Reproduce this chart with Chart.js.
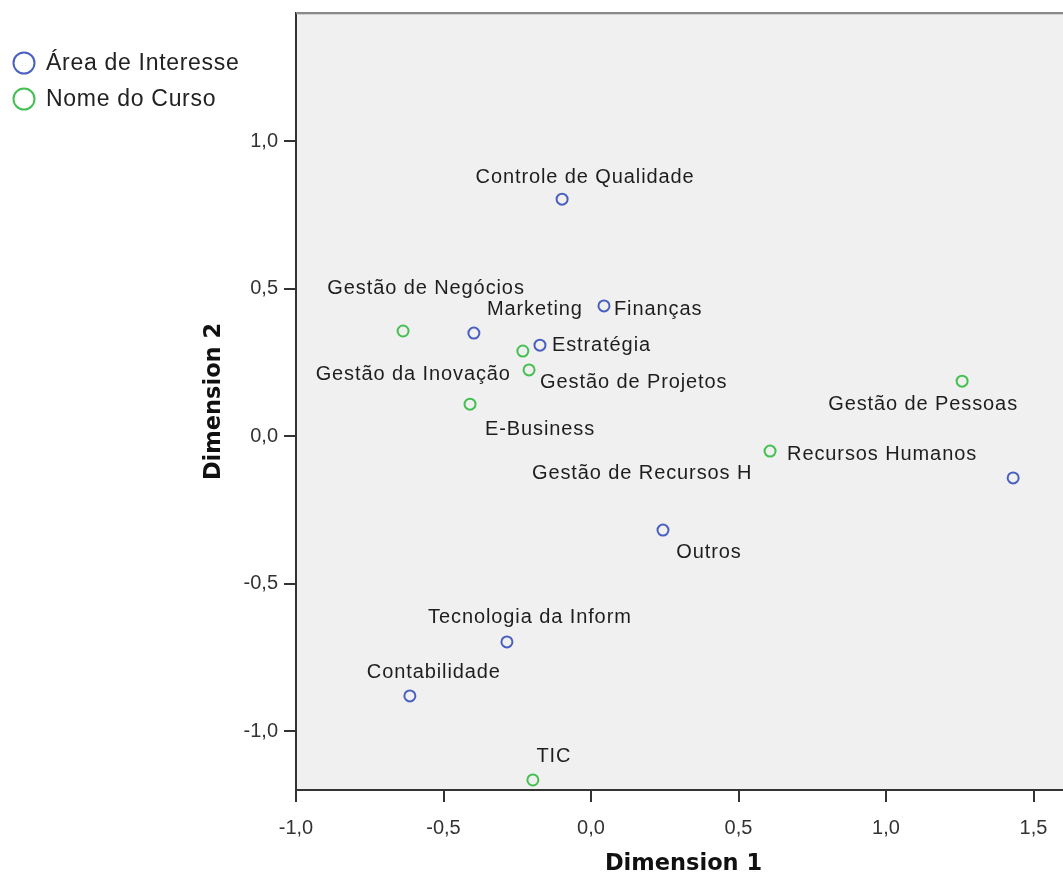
<!DOCTYPE html>
<html>
<head>
<meta charset="utf-8">
<script src="https://cdn.jsdelivr.net/npm/chart.js@4.4.1/dist/chart.umd.min.js"></script>
<style>
  html, body { margin: 0; padding: 0; background: #ffffff; overflow: hidden; }
  #wrap { width: 1063px; height: 876px; }
  canvas { display: block; }
</style>
</head>
<body>
<div id="wrap"><canvas id="c" width="1063" height="876"></canvas></div>
<script>
// ---- Data ----
const seriesNames = ['Área de Interesse', 'Nome do Curso'];

const interestLabels = ['Controle de Qualidade', 'Finanças', 'Marketing', 'Estratégia',
  'Gestão de Recursos H', 'Outros', 'Tecnologia da Inform', 'Contabilidade'];
const interestX = [-0.098, 0.044, -0.397, -0.173, 1.431, 0.244, -0.285, -0.614];
const interestY = [0.803, 0.441, 0.349, 0.308, -0.142, -0.319, -0.698, -0.881];

const courseLabels = ['Gestão de Negócios', 'Gestão da Inovação', 'Gestão de Projetos',
  'E-Business', 'Gestão de Pessoas', 'Recursos Humanos', 'TIC'];
const courseX = [-0.637, -0.231, -0.210, -0.410, 1.258, 0.607, -0.197];
const courseY = [0.356, 0.288, 0.224, 0.108, 0.186, -0.051, -1.166];

const xTickValues = [-1.0, -0.5, 0.0, 0.5, 1.0, 1.5];
const yTickValues = [-1.0, -0.5, 0.0, 0.5, 1.0];
const xTitle = 'Dimension 1';
const yTitle = 'Dimension 2';

// ---- Label placement (pixel offsets from each point, styling only) ----
const interestLabelPlacement = [
  [23, -22, 'center'], [10, 4, 'left'], [61, -24, 'center'], [12, 0, 'left'],
  [-371, -4, 'center'], [46, 22, 'center'], [23, -24, 'center'], [24, -23, 'center']
];
const courseLabelPlacement = [
  [23, -43, 'center'], [-12, 23, 'right'], [11, 13, 'left'], [70, 25, 'center'],
  [-39, 23, 'center'], [17, 3, 'left'], [21, -23, 'center']
];

const BLUE = '#4a60c0';
const GREEN = '#44c052';
const fmt = v => v.toFixed(1).replace('.', ',');

function toPoints(xs, ys) { return xs.map((x, i) => ({ x: x, y: ys[i] })); }

const pointLabels = {
  id: 'pointLabels',
  afterDatasetsDraw(chart) {
    const ctx = chart.ctx;
    const sets = [[interestLabels, interestLabelPlacement], [courseLabels, courseLabelPlacement]];
    ctx.save();
    ctx.font = '20px "Liberation Sans", Arial, sans-serif';
    ctx.letterSpacing = '0.9px';
    ctx.fillStyle = '#1e1e1e';
    ctx.textBaseline = 'middle';
    sets.forEach((s, di) => {
      const meta = chart.getDatasetMeta(di);
      meta.data.forEach((el, i) => {
        const p = s[1][i];
        ctx.textAlign = p[2];
        ctx.fillText(s[0][i], el.x + p[0], el.y + p[1]);
      });
    });
    ctx.restore();
  }
};

const decor = {
  id: 'decor',
  beforeDraw(chart) {
    const { ctx, chartArea: a } = chart;
    ctx.save();
    ctx.fillStyle = '#f0f0f0';
    ctx.fillRect(a.left, a.top, a.right - a.left, a.bottom - a.top);
    ctx.restore();
  },
  afterDraw(chart) {
    const { ctx, chartArea: a } = chart;
    ctx.save();
    // top frame line
    ctx.strokeStyle = '#8a8a8a';
    ctx.lineWidth = 2;
    ctx.beginPath();
    ctx.moveTo(a.left, a.top);
    ctx.lineTo(a.right, a.top);
    ctx.stroke();
    ctx.strokeStyle = '#d0d0d0';
    ctx.lineWidth = 1;
    ctx.beginPath();
    ctx.moveTo(a.left + 2, a.top + 1.5);
    ctx.lineTo(a.right, a.top + 1.5);
    ctx.stroke();
    // axis titles
    ctx.fillStyle = '#111111';
    ctx.font = 'bold 22.5px "DejaVu Sans", Verdana, sans-serif';
    ctx.textAlign = 'center';
    ctx.textBaseline = 'middle';
    ctx.fillText(xTitle, (a.left + a.right) / 2 + 4, 864);
    ctx.save();
    ctx.translate(214, (a.top + a.bottom) / 2);
    ctx.rotate(-Math.PI / 2);
    ctx.fillText(yTitle, 0, 0);
    ctx.restore();
    // legend
    const cols = [BLUE, GREEN];
    ctx.font = '23px "Liberation Sans", Arial, sans-serif';
    ctx.letterSpacing = '0.7px';
    ctx.textAlign = 'left';
    ctx.fillStyle = '#222222';
    seriesNames.forEach((n, i) => {
      const cy = 63 + i * 36;
      ctx.beginPath();
      ctx.arc(24, cy, 10.5, 0, Math.PI * 2);
      ctx.strokeStyle = cols[i];
      ctx.lineWidth = 2;
      ctx.stroke();
      ctx.fillText(n, 46, cy + 1);
    });
    ctx.restore();
  }
};

function zeroPad(s) { s.paddingTop = 0; s.paddingBottom = 0; s.paddingLeft = 0; s.paddingRight = 0; }

new Chart(document.getElementById('c'), {
  type: 'scatter',
  data: {
    datasets: [
      { label: seriesNames[0], data: toPoints(interestX, interestY),
        borderColor: BLUE, backgroundColor: 'rgba(0,0,0,0)', borderWidth: 2,
        pointRadius: 5.5, pointHoverRadius: 5.5 },
      { label: seriesNames[1], data: toPoints(courseX, courseY),
        borderColor: GREEN, backgroundColor: 'rgba(0,0,0,0)', borderWidth: 2,
        pointRadius: 5.5, pointHoverRadius: 5.5 }
    ]
  },
  options: {
    responsive: false,
    animation: false,
    events: [],
    layout: { autoPadding: false, padding: { top: 13, left: 0, right: 0, bottom: 0 } },
    plugins: { legend: { display: false }, tooltip: { enabled: false } },
    scales: {
      x: {
        type: 'linear', min: -1.0, max: 1.6,
        afterFit(s) { s.height = 86; zeroPad(s); },
        afterBuildTicks(s) { s.ticks = xTickValues.map(v => ({ value: v })); },
        ticks: { callback: v => fmt(v), color: '#333333', padding: 14,
          maxRotation: 0, autoSkip: false,
          font: { family: '"Liberation Sans", Arial, sans-serif', size: 20 } },
        grid: { drawOnChartArea: false, drawTicks: true, tickLength: 12,
          color: '#333333', lineWidth: 2 },
        border: { display: true, color: '#333333', width: 2 }
      },
      y: {
        type: 'linear', min: -1.2, max: 1.434,
        afterFit(s) { s.width = 296; zeroPad(s); },
        afterBuildTicks(s) { s.ticks = yTickValues.map(v => ({ value: v })); },
        ticks: { callback: v => fmt(v), color: '#333333', padding: 6,
          autoSkip: false,
          font: { family: '"Liberation Sans", Arial, sans-serif', size: 20 } },
        grid: { drawOnChartArea: false, drawTicks: true, tickLength: 12,
          color: '#333333', lineWidth: 2 },
        border: { display: true, color: '#333333', width: 2 }
      }
    }
  },
  plugins: [decor, pointLabels]
});
</script>
</body>
</html>
